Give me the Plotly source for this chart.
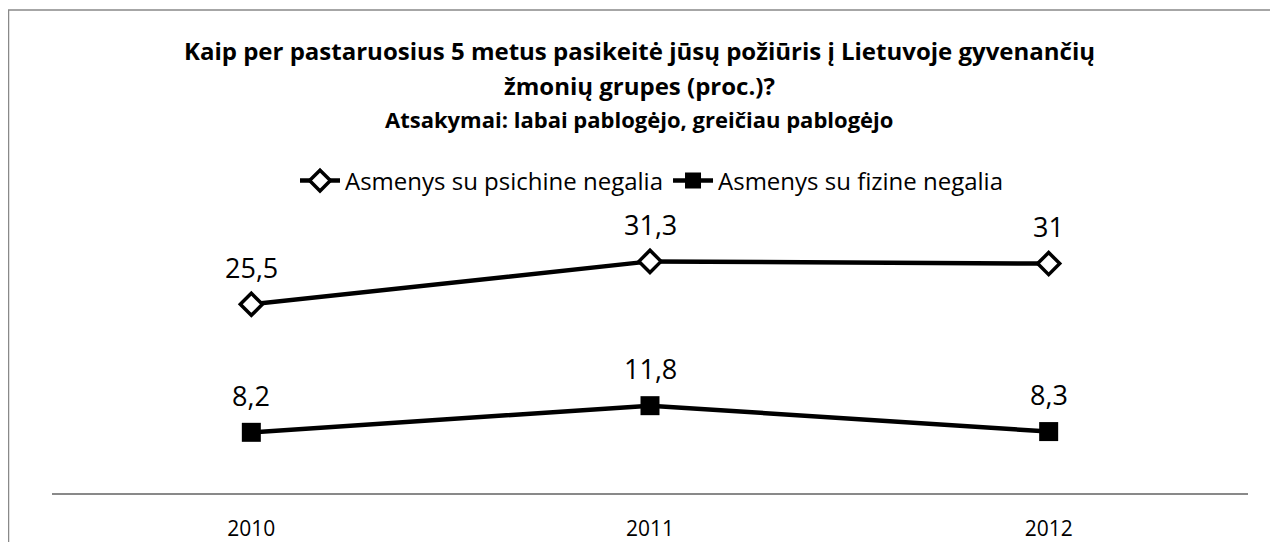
import plotly.graph_objects as go

years = ["2010", "2011", "2012"]
psichine = [25.5, 31.3, 31.0]
fizine = [8.2, 11.8, 8.3]
psichine_labels = ["25,5", "31,3", "31"]
fizine_labels = ["8,2", "11,8", "8,3"]
series_names = ["Asmenys su psichine negalia", "Asmenys su fizine negalia"]
title_lines = [
    "Kaip per pastaruosius 5 metus pasikeitė jūsų požiūris į Lietuvoje gyvenančių",
    "žmonių grupes (proc.)?",
]
subtitle = "Atsakymai: labai pablogėjo, greičiau pablogėjo"

FONT = "Open Sans"
OFF = 8  # page body margin
W, H = 1278 - OFF, 542 - OFF
# plot area in screen pixels: x 52..1248, y 234..493
L = 52 - OFF
R = W - (1248 - OFF)
T = 234 - OFF
B = H - (493 - OFF)
PH = H - T - B
PW = W - L - R


def py2paper(py):
    # py in screen pixels
    return ((H - B) - (py - OFF)) / PH


def px2paper(px):
    return ((px - OFF) - L) / PW


fig = go.Figure()
fig.add_trace(go.Scatter(
    x=years, y=psichine, name=series_names[0], mode="lines+markers",
    line=dict(color="black", width=4.5),
    marker=dict(symbol="diamond", size=17, color="white",
                line=dict(color="black", width=3.5)),
))
fig.add_trace(go.Scatter(
    x=years, y=fizine, name=series_names[1], mode="lines+markers",
    line=dict(color="black", width=4.5),
    marker=dict(symbol="square", size=19, color="black",
                line=dict(color="black", width=0)),
))

annotations = []
for ys, labs in [(psichine, psichine_labels), (fizine, fizine_labels)]:
    for i, (y, t) in enumerate(zip(ys, labs)):
        annotations.append(dict(x=i, y=y, text=t, showarrow=False, xref="x", yref="y",
                                yshift=37, font=dict(family=FONT, size=27, color="black")))

for txt, py, size in [(title_lines[0], 50, 24), (title_lines[1], 85, 24), (subtitle, 119, 22)]:
    annotations.append(dict(
        x=px2paper(639), y=py2paper(py), xref="paper", yref="paper",
        text="<b>" + txt + "</b>", showarrow=False, xanchor="center", yanchor="middle",
        font=dict(family=FONT, size=size, color="black")))

fig.update_layout(
    width=W, height=H,
    margin=dict(l=L, r=R, t=T, b=B, autoexpand=False),
    paper_bgcolor="white", plot_bgcolor="white",
    font=dict(family=FONT, color="black"),
    showlegend=True,
    legend=dict(orientation="h", x=px2paper(652), xanchor="center",
                y=py2paper(181), yanchor="middle", yref="paper",
                font=dict(family=FONT, size=24, color="black"),
                itemwidth=40, traceorder="normal"),
    xaxis=dict(type="category", range=[-0.5, 2.5], showgrid=False, zeroline=False,
               showline=True, linecolor="#898989", linewidth=2, ticks="",
               tickfont=dict(family=FONT, size=21, color="black"), ticklabelstandoff=16),
    yaxis=dict(range=[0, 35], visible=False, showgrid=False, zeroline=False),
    annotations=annotations,
    shapes=[dict(type="rect", xref="paper", yref="paper",
                 x0=px2paper(OFF + 0.5), x1=px2paper(1300), y0=py2paper(600), y1=py2paper(10),
                 line=dict(color="#898989", width=1.5), fillcolor="rgba(0,0,0,0)", layer="below")],
)

fig.write_html("out.html")
